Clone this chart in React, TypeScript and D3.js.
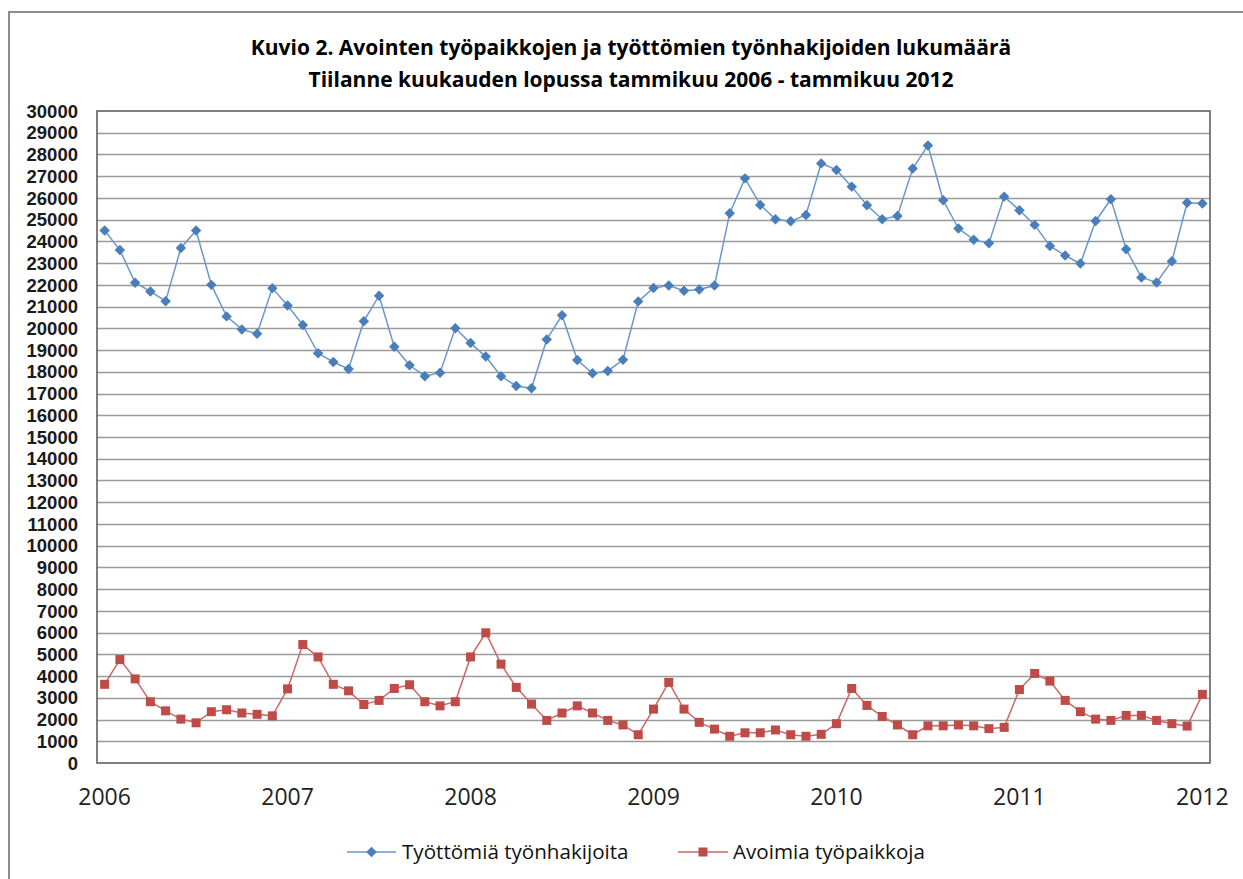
import React, { useEffect, useRef } from 'react';
import * as d3 from 'd3';

// Työttömät työnhakijat, tammikuu 2006 - tammikuu 2012 (kuukauden lopussa)
const unemployed: number[] = [
  24500, 23600, 22100, 21700, 21250, 23700, 24500, 22000, 20550, 19950, 19750, 21850,
  21050, 20150, 18850, 18450, 18130, 20330, 21500, 19150, 18300, 17800, 17960, 20000,
  19320, 18700, 17800, 17350, 17240, 19490, 20600, 18540, 17930, 18040, 18550, 21240,
  21860, 21970, 21730, 21790, 21970, 25300, 26900, 25680, 25020, 24930, 25220, 27590,
  27290, 26520, 25660, 25020, 25170, 27350, 28410, 25890, 24590, 24080, 23920, 26060,
  25430, 24760, 23790, 23350, 22980, 24940, 25940, 23640, 22340, 22110, 23090, 25780,
  25740,
];

// Avoimet työpaikat
const vacancies: number[] = [
  3620, 4760, 3870, 2820, 2400, 2020, 1850, 2360, 2450, 2300, 2240, 2170,
  3410, 5450, 4880, 3620, 3320, 2690, 2880, 3430, 3600, 2820, 2630, 2820,
  4880, 5990, 4550, 3480, 2710, 1960, 2300, 2630, 2300, 1960, 1750, 1300,
  2480, 3710, 2480, 1870, 1560, 1230, 1390, 1390, 1520, 1300, 1230, 1320,
  1810, 3430, 2650, 2140, 1750, 1300, 1710, 1710, 1750, 1710, 1580, 1640,
  3380, 4120, 3770, 2880, 2360, 2020, 1960, 2190, 2190, 1960, 1810, 1700,
  3160,
];

const years: number[] = [2006, 2007, 2008, 2009, 2010, 2011, 2012];
const yTicks: number[] = d3.range(0, 30001, 1000);

const titleLines: string[] = [
  'Kuvio 2. Avointen työpaikkojen ja työttömien työnhakijoiden lukumäärä',
  'Tiilanne kuukauden lopussa tammikuu 2006 - tammikuu 2012',
];

const seriesNames: string[] = ['Työttömiä työnhakijoita', 'Avoimia työpaikkoja'];

const months: string[] = unemployed.map((_, i) => {
  const y = 2006 + Math.floor(i / 12);
  const m = (i % 12) + 1;
  return `${y}-${m}`;
});

const W = 1243;
const H = 879;
const FONT = '"Open Sans", "DejaVu Sans", sans-serif';
const TICK_FONT = '"Liberation Sans", Arial, sans-serif';

const App: React.FC = () => {
  const svgRef = useRef<SVGSVGElement | null>(null);

  useEffect(() => {
    const plot = { left: 97, top: 111, right: 1210, bottom: 763 };

    const x = d3.scalePoint<string>().domain(months).range([plot.left, plot.right]).padding(0.5);
    const y = d3.scaleLinear().domain([0, 30000]).range([plot.bottom, plot.top]);

    const svg = d3.select(svgRef.current);
    svg.selectAll('*').remove();

    svg.attr('width', W).attr('height', H).style('font-family', FONT);

    svg.append('rect').attr('width', W).attr('height', H).attr('fill', '#fff');

    // outer chart frame (cut off on the right and bottom)
    svg
      .append('rect')
      .attr('x', 9)
      .attr('y', 12)
      .attr('width', W + 20)
      .attr('height', H + 20)
      .attr('fill', 'none')
      .attr('stroke', '#8c8c8c')
      .attr('stroke-width', 2);

    // title
    const title = svg
      .append('text')
      .attr('text-anchor', 'middle')
      .attr('font-weight', 700)
      .attr('font-size', 21)
      .attr('fill', '#000');
    titleLines.forEach((t, i) => {
      title.append('tspan').attr('x', 631).attr('y', 55 + i * 32).text(t);
    });

    // gridlines
    svg
      .append('g')
      .selectAll('line')
      .data(yTicks.filter((d) => d > 0 && d < 30000))
      .join('line')
      .attr('x1', plot.left)
      .attr('x2', plot.right)
      .attr('y1', (d) => Math.round(y(d)) + 0.5)
      .attr('y2', (d) => Math.round(y(d)) + 0.5)
      .attr('stroke', '#9a9a9a')
      .attr('stroke-width', 1.5);

    // plot border
    svg
      .append('rect')
      .attr('x', plot.left)
      .attr('y', plot.top)
      .attr('width', plot.right - plot.left)
      .attr('height', plot.bottom - plot.top)
      .attr('fill', 'none')
      .attr('stroke', '#555')
      .attr('stroke-width', 1.5);

    // y tick labels
    svg
      .append('g')
      .selectAll('text')
      .data(yTicks)
      .join('text')
      .attr('x', 78)
      .attr('y', (d) => y(d))
      .attr('dy', '0.36em')
      .attr('text-anchor', 'end')
      .attr('font-family', TICK_FONT)
      .attr('font-size', 18.5)
      .attr('font-weight', 700)
      .attr('fill', '#1a1a1a')
      .text((d) => String(d));

    // x labels (January of each year)
    svg
      .append('g')
      .selectAll('text')
      .data(years)
      .join('text')
      .attr('x', (d) => x(`${d}-1`) as number)
      .attr('y', 805)
      .attr('text-anchor', 'middle')
      .attr('font-size', 23)
      .attr('fill', '#222')
      .text((d) => String(d));

    const line = d3
      .line<number>()
      .x((_, i) => x(months[i]) as number)
      .y((d) => y(d));

    const blue = '#4a7ebb';
    const blueLine = '#6a97cc';
    const red = '#be4b48';
    const redLine = '#cc6866';

    // Työttömiä työnhakijoita
    svg
      .append('path')
      .datum(unemployed)
      .attr('fill', 'none')
      .attr('stroke', blueLine)
      .attr('stroke-width', 1.5)
      .attr('d', line);

    const diamond = d3.symbol().type(d3.symbolDiamond2).size(70);
    svg
      .append('g')
      .selectAll('path')
      .data(unemployed)
      .join('path')
      .attr('transform', (d, i) => `translate(${x(months[i])},${y(d)})`)
      .attr('d', diamond() as string)
      .attr('fill', blue);

    // Avoimia työpaikkoja
    svg
      .append('path')
      .datum(vacancies)
      .attr('fill', 'none')
      .attr('stroke', redLine)
      .attr('stroke-width', 1.5)
      .attr('d', line);

    svg
      .append('g')
      .selectAll('rect')
      .data(vacancies)
      .join('rect')
      .attr('x', (d, i) => (x(months[i]) as number) - 4.5)
      .attr('y', (d) => y(d) - 4.5)
      .attr('width', 9)
      .attr('height', 9)
      .attr('fill', red);

    // legend
    const legend = svg.append('g');
    const ly = 852;
    const items = [
      { name: seriesNames[0], x0: 347, x1: 396, tx: 402, stroke: blueLine, fill: blue, shape: 'diamond' },
      { name: seriesNames[1], x0: 678, x1: 728, tx: 733, stroke: redLine, fill: red, shape: 'square' },
    ];
    items.forEach((it) => {
      legend
        .append('line')
        .attr('x1', it.x0)
        .attr('x2', it.x1)
        .attr('y1', ly)
        .attr('y2', ly)
        .attr('stroke', it.stroke)
        .attr('stroke-width', 1.5);
      const cx = (it.x0 + it.x1) / 2;
      if (it.shape === 'diamond') {
        legend
          .append('path')
          .attr('transform', `translate(${cx},${ly})`)
          .attr('d', diamond() as string)
          .attr('fill', it.fill);
      } else {
        legend
          .append('rect')
          .attr('x', cx - 4.5)
          .attr('y', ly - 4.5)
          .attr('width', 9)
          .attr('height', 9)
          .attr('fill', it.fill);
      }
      legend
        .append('text')
        .attr('x', it.tx)
        .attr('y', 859)
        .attr('font-size', 20.6)
        .attr('fill', '#111')
        .text(it.name);
    });
  }, []);

  return <svg ref={svgRef} style={{ position: 'absolute', left: 0, top: 0 }} />;
};

export default App;
